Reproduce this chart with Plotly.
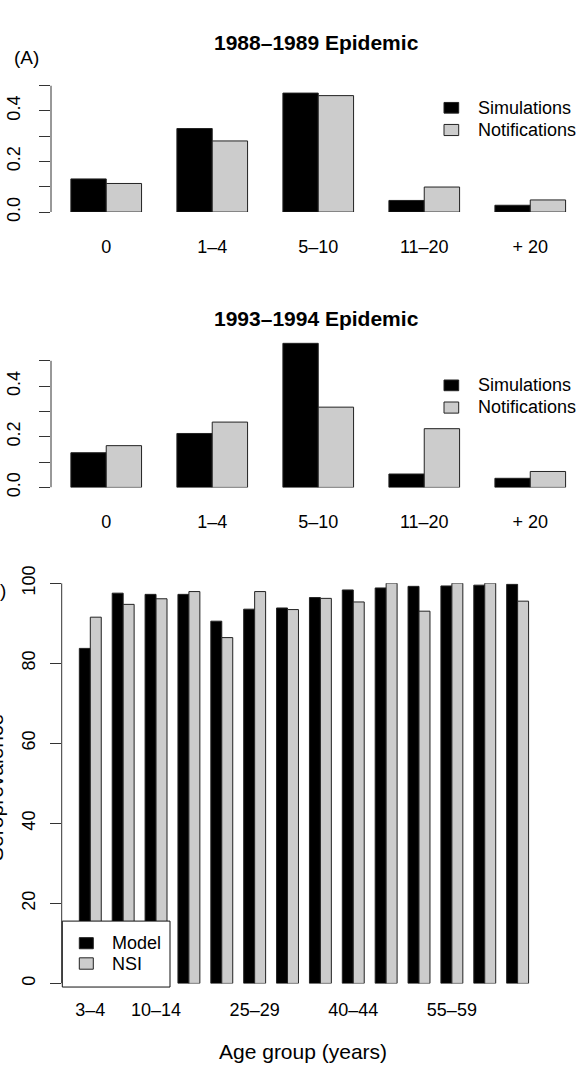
import plotly.graph_objects as go

# ---------------- data ----------------
cats_ab = ["0", "1–4", "5–10", "11–20", "+ 20"]
sim_8889 = [0.131, 0.330, 0.470, 0.046, 0.027]
not_8889 = [0.113, 0.281, 0.460, 0.099, 0.048]
sim_9394 = [0.137, 0.213, 0.569, 0.053, 0.036]
not_9394 = [0.165, 0.258, 0.317, 0.232, 0.063]

ages_c = ["3–4", "5–9", "10–14", "15–19", "20–24", "25–29", "30–34",
          "35–39", "40–44", "45–49", "50–54", "55–59", "60–64", "65+"]
shown_ages = ["3–4", "10–14", "25–29", "40–44", "55–59"]
model_c = [83.7, 97.5, 97.2, 97.2, 90.5, 93.5, 93.8, 96.4, 98.3, 98.8, 99.2, 99.3, 99.5, 99.7]
nsi_c = [91.5, 94.7, 96.1, 97.9, 86.4, 97.9, 93.4, 96.2, 95.3, 100.0, 93.0, 100.0, 100.0, 95.5]

ab_ticks = [0, 0.1, 0.2, 0.3, 0.4, 0.5]
ab_ticktext = ["0.0", "", "0.2", "", "0.4", ""]
c_ticks = [0, 20, 40, 60, 80, 100]
c_ticktext = ["0", "20", "40", "60", "80", "100"]

# ---------------- style ----------------
W, H = 576, 1073
FONT = "Liberation Sans, Arial, Helvetica, sans-serif"
BLACK = "#000000"
GREY = "#CCCCCC"
EDGE = "#222222"
AX = "#333333"


def X(px):
    return px / W


def Y(py):
    return 1 - py / H


fig = go.Figure()


def add_pair(xs, a, b, xa, ya):
    fig.add_trace(go.Bar(x=xs, y=a, marker=dict(color=BLACK, line=dict(color=EDGE, width=1)),
                         xaxis=xa, yaxis=ya, showlegend=False, offsetgroup="1" + xa))
    fig.add_trace(go.Bar(x=xs, y=b, marker=dict(color=GREY, line=dict(color=EDGE, width=1)),
                         xaxis=xa, yaxis=ya, showlegend=False, offsetgroup="2" + xa))


add_pair(cats_ab, sim_8889, not_8889, "x", "y")
add_pair(cats_ab, sim_9394, not_9394, "x2", "y2")
add_pair(ages_c, model_c, nsi_c, "x3", "y3")

tickfont = dict(family=FONT, size=18, color="#000")

xcommon = dict(type="category", showline=False, showgrid=False, zeroline=False,
               ticks="", tickfont=tickfont, fixedrange=True)
ycommon = dict(showline=False, showgrid=False, zeroline=False, ticks="outside",
               ticklen=11, tickwidth=1, tickcolor=AX, tickangle=-90,
               tickfont=tickfont, fixedrange=True)

fig.update_layout(
    width=W, height=H,
    margin=dict(l=0, r=0, t=0, b=0),
    paper_bgcolor="white", plot_bgcolor="white",
    barmode="group", bargap=1/3, bargroupgap=0,
    font=dict(family=FONT, size=18, color="#000"),
    xaxis=dict(xcommon, domain=[X(51), 1.0], range=[-0.521, 4.4316],
               anchor="y", ticklabelstandoff=22),
    yaxis=dict(ycommon, domain=[Y(199.3), Y(69.3)], range=[0, 0.5],
               anchor="x", tickvals=ab_ticks, ticktext=ab_ticktext, ticklabelstandoff=12),
    xaxis2=dict(xcommon, domain=[X(51), 1.0], range=[-0.521, 4.4316],
                anchor="y2", ticklabelstandoff=22),
    yaxis2=dict(ycommon, domain=[Y(482), Y(326)], range=[0, 0.6],
                anchor="x2", tickvals=ab_ticks, ticktext=ab_ticktext, ticklabelstandoff=12),
    xaxis3=dict(xcommon, domain=[X(61.7), X(543)], range=[-0.870, 13.772],
                anchor="y3", tickvals=shown_ages, ticktext=shown_ages, ticklabelstandoff=14),
    yaxis3=dict(ycommon, domain=[Y(991.3), Y(580.3)], range=[0, 100],
                anchor="x3", tickvals=c_ticks, ticktext=c_ticktext, ticklabelstandoff=8),
)

shapes = []
# y axis lines spanning the tick range
shapes.append(dict(type="line", xref="x domain", yref="y", x0=0, x1=0, y0=0, y1=0.5,
                   line=dict(color=AX, width=1)))
shapes.append(dict(type="line", xref="x2 domain", yref="y2", x0=0, x1=0, y0=0, y1=0.5,
                   line=dict(color=AX, width=1)))
shapes.append(dict(type="line", xref="x3 domain", yref="y3", x0=0, x1=0, y0=0, y1=100,
                   line=dict(color=AX, width=1)))

annotations = []


def legend_rows(labels, colors, sq_x0, sq_x1, rows, text_x, text_ys, fontsize=18):
    for lab, col, (r0, r1), ty in zip(labels, colors, rows, text_ys):
        shapes.append(dict(type="rect", xref="paper", yref="paper",
                           x0=X(sq_x0), x1=X(sq_x1), y0=Y(r1), y1=Y(r0),
                           fillcolor=col, line=dict(color=EDGE, width=1), layer="above"))
        annotations.append(dict(xref="paper", yref="paper", x=X(text_x), y=Y(ty),
                                xanchor="left", yanchor="middle", showarrow=False,
                                text=lab, font=dict(family=FONT, size=fontsize, color="#000")))


# panel titles & tags
annotations.append(dict(xref="paper", yref="paper", x=X(316), y=Y(25), showarrow=False,
                        xanchor="center", yanchor="middle", text="<b>1988–1989 Epidemic</b>",
                        font=dict(family=FONT, size=21, color="#000")))
annotations.append(dict(xref="paper", yref="paper", x=X(316), y=Y(308.3), showarrow=False,
                        xanchor="center", yanchor="middle", text="<b>1993–1994 Epidemic</b>",
                        font=dict(family=FONT, size=21, color="#000")))
annotations.append(dict(xref="paper", yref="paper", x=X(12), y=Y(40.7), showarrow=False,
                        xanchor="left", yanchor="middle", text="(A)",
                        font=dict(family=FONT, size=19, color="#000")))
annotations.append(dict(xref="paper", yref="paper", x=X(8), y=Y(588), showarrow=False,
                        xanchor="right", yanchor="middle", text="(B)",
                        font=dict(family=FONT, size=19, color="#000")))

# legends of panels A and B
legend_rows(["Simulations", "Notifications"], [BLACK, GREY], 444, 458.7,
            [(86.7, 97.7), (109.3, 120.7)], 475.7, [92.5, 114.5])
legend_rows(["Simulations", "Notifications"], [BLACK, GREY], 444, 458.7,
            [(371.7, 382.7), (394.3, 405.7)], 475.7, [377.3, 399.3])

# legend box of the lower panel
shapes.append(dict(type="rect", xref="paper", yref="paper", x0=X(62.3), x1=X(170),
                   y0=Y(995), y1=Y(927.3), fillcolor="white",
                   line=dict(color="#111", width=1), layer="above"))
legend_rows(["Model", "NSI"], [BLACK, GREY], 79.3, 93.3,
            [(944.3, 955.7), (965.0, 976.7)], 110, [950, 971])

# axis titles of the lower panel
annotations.append(dict(xref="paper", yref="paper", x=X(302.5), y=Y(1061.7), showarrow=False,
                        xanchor="center", yanchor="middle", text="Age group (years)",
                        font=dict(family=FONT, size=21, color="#000")))
annotations.append(dict(xref="paper", yref="paper", x=X(9), y=Y(790), showarrow=False,
                        xanchor="right", yanchor="middle", text="Seroprevalence",
                        textangle=-90, font=dict(family=FONT, size=21, color="#000")))

fig.update_layout(shapes=shapes, annotations=annotations)
# remove the default page margin so the 576x1073 figure fills the window exactly
fig.write_html("out.html",
               config={"displayModeBar": False, "staticPlot": True},
               post_script="document.body.style.margin='0';document.body.style.overflow='hidden';")
